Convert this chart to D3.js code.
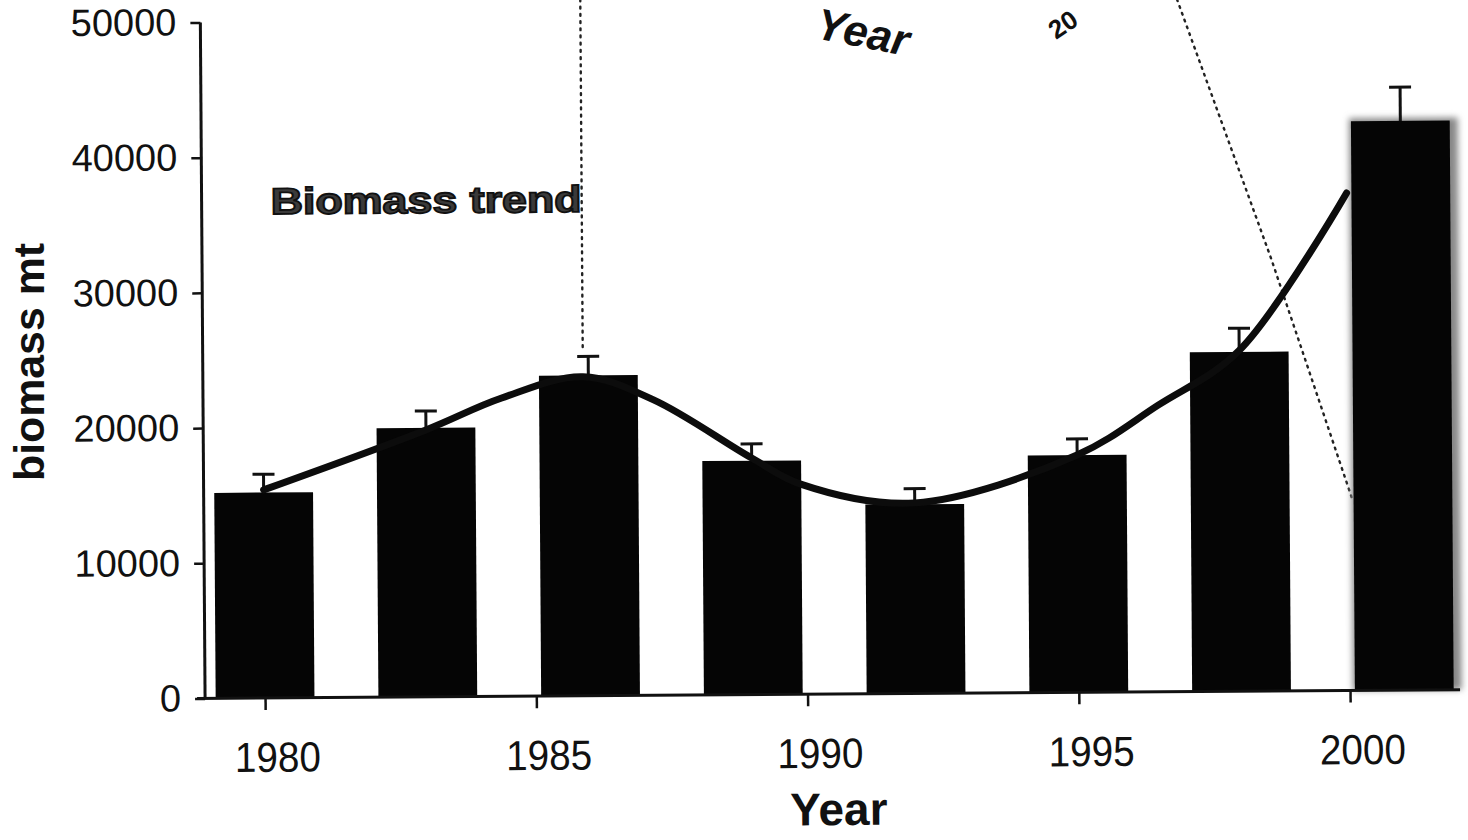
<!DOCTYPE html>
<html>
<head>
<meta charset="utf-8">
<script src="https://cdn.jsdelivr.net/npm/d3@7/dist/d3.min.js"></script>
<style>
  html, body { margin: 0; padding: 0; background: #fff; }
  svg { display: block; }
  text { font-family: "Liberation Sans", Arial, sans-serif; fill: #111; }
</style>
</head>
<body>
<svg id="chart" width="1468" height="840"></svg>
<script>
/* biomass bars with error bars and a smooth trend line (scanned figure) */
const years = [1980, 1983, 1986, 1989, 1992, 1995, 1998, 2001];
const biomass = [15200, 19900, 23700, 17300, 14000, 17550, 25100, 42100];
const upper = [16550, 21150, 25100, 18550, 15150, 18750, 26850, 44600];

const trendYears = [1980, 1983, 1984.4, 1985.9, 1987.2, 1989, 1989.9, 1992, 1995, 1996.5, 1998, 2000];
const trendValues = [15400, 19750, 22070, 23600, 21850, 17500, 15550, 14100, 17560, 21200, 25200, 36800];

const yTicks = [0, 10000, 20000, 30000, 40000, 50000];
const xTicks = [1980, 1985, 1990, 1995, 2000];

// dotted leftovers of an overlapping inset, as [year, value] pairs
const dropLine = [[1985.9, 51500], [1985.9, 25700]];
const slantLine = [[1996.9, 51200], [1998.6, 32000], [2000.07, 14100]];

const svg = d3.select('#chart');
const g = svg.append('g').attr('transform', 'rotate(-0.4 700 400)');

const x = d3.scaleLinear().domain([1980, 2000]).range([263, 1348]);
const y = d3.scaleLinear().domain([0, 50000]).range([695, 19]);
const barW = (x(1983) - x(1980)) * 0.607;

const defs = svg.append('defs');
defs.append('filter').attr('id', 'fuzz').attr('x', '-10%').attr('width', '120%')
  .append('feGaussianBlur').attr('stdDeviation', 3);

// dotted lines
const dotted = d3.line().x(d => x(d[0])).y(d => y(d[1]));
[dropLine, slantLine].forEach(l => {
  g.append('path').attr('d', dotted(l))
    .attr('fill', 'none').attr('stroke', '#222').attr('stroke-width', 2.4)
    .attr('stroke-dasharray', '1.8 5.4').attr('stroke-linecap', 'round');
});

// fuzzy halo on the last bar
g.append('rect')
  .attr('x', x(years[7]) - barW / 2 - 2).attr('y', y(biomass[7]) - 3)
  .attr('width', barW + 10).attr('height', y(0) - y(biomass[7]) + 3)
  .attr('fill', '#888').attr('filter', 'url(#fuzz)');

// bars
g.append('g').selectAll('rect').data(years).enter().append('rect')
  .attr('x', d => x(d) - barW / 2)
  .attr('y', (d, i) => y(biomass[i]))
  .attr('width', barW)
  .attr('height', (d, i) => y(0) - y(biomass[i]))
  .attr('fill', '#050505');

// error bars
const eb = g.append('g').attr('stroke', '#111').attr('stroke-width', 3);
years.forEach((yr, i) => {
  eb.append('line').attr('x1', x(yr)).attr('x2', x(yr)).attr('y1', y(biomass[i])).attr('y2', y(upper[i]));
  eb.append('line').attr('x1', x(yr) - 11).attr('x2', x(yr) + 11).attr('y1', y(upper[i])).attr('y2', y(upper[i]));
});

// trend
const trend = d3.line().curve(d3.curveCatmullRom.alpha(0.5))
  .x(d => x(d[0])).y(d => y(d[1]));
g.append('path').attr('d', trend(d3.zip(trendYears, trendValues)))
  .attr('fill', 'none').attr('stroke', '#0c0c0c').attr('stroke-width', 7)
  .attr('stroke-linecap', 'round');

// axes
const yAxis = g.append('g').attr('transform', 'translate(203,0)')
  .call(d3.axisLeft(y).tickValues(yTicks).tickSize(10).tickPadding(14).tickFormat(d3.format('d')));
yAxis.select('.domain').attr('d', `M0,${y(50000)}V${y(0)}`).attr('stroke', '#111').attr('stroke-width', 3);
yAxis.selectAll('.tick line').attr('stroke', '#111').attr('stroke-width', 2.5);
yAxis.selectAll('.tick text').attr('font-size', 38).attr('fill', '#111')
  .attr('font-family', '"Liberation Sans", Arial, sans-serif');

const xAxis = g.append('g').attr('transform', `translate(0,${y(0)})`)
  .call(d3.axisBottom(x).tickValues(xTicks).tickSize(12).tickPadding(32).tickFormat(d3.format('d')));
xAxis.select('.domain').attr('d', 'M195,0H1458').attr('stroke', '#111').attr('stroke-width', 3);
xAxis.selectAll('.tick line').attr('stroke', '#111').attr('stroke-width', 2.5);
xAxis.selectAll('.tick text').attr('font-size', 42).attr('fill', '#111').attr('dx', 12)
  .attr('textLength', 86).attr('lengthAdjust', 'spacingAndGlyphs')
  .attr('font-family', '"Liberation Sans", Arial, sans-serif');

// titles
g.append('text').attr('x', 836).attr('y', 826).attr('text-anchor', 'middle')
  .attr('font-size', 46).attr('font-weight', 'bold').text('Year');

svg.append('text').attr('transform', 'translate(44,362) rotate(-90)')
  .attr('text-anchor', 'middle').attr('font-size', 42).attr('font-weight', 'bold')
  .attr('textLength', 238).attr('lengthAdjust', 'spacingAndGlyphs')
  .text('biomass mt');

g.append('text').attr('x', 272).attr('y', 211)
  .attr('font-family', '"DejaVu Sans", sans-serif').attr('font-size', 37).attr('font-weight', 'bold')
  .attr('textLength', 311).attr('lengthAdjust', 'spacingAndGlyphs')
  .style('fill', '#3a3a3a').attr('stroke', '#111').attr('stroke-width', 1.8)
  .text('Biomass trend');

// fragments of the overlapping inset at the top
svg.append('text').attr('transform', 'translate(814,38) rotate(11)')
  .attr('font-size', 44).attr('font-weight', 'bold').attr('font-style', 'italic')
  .text('Year');
svg.append('text').attr('transform', 'translate(1056,40) rotate(-34)')
  .attr('font-size', 26).attr('font-weight', 'bold')
  .text('20');
</script>
</body>
</html>
